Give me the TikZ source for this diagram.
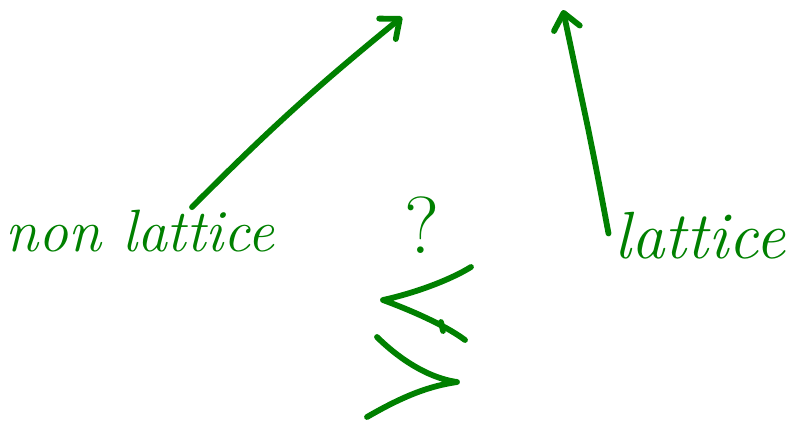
\documentclass[tikz,border=0pt]{standalone}
\usepackage{tikz}
\usetikzlibrary{calc,arrows.meta}
\definecolor{ink}{RGB}{0,128,0}

\begin{document}
\begin{tikzpicture}[pen/.style={ink,line width=3.3pt,line cap=round,line join=round},
  word/.style={ink,font=\fontsize{34}{34}\selectfont\itshape,inner sep=0pt}]
  % Parameters
\def\W{15.82}    % width
\def\D{8.48}     % depth

 \useasboundingbox (0,0) rectangle (\W,-\D);

 % words
 \node[word] (nonlat) at (2.8,-4.62) {non lattice};
 \node[word,font=\fontsize{38}{38}\selectfont\itshape] (lat) at (14.0,-4.72) {lattice};
 \node[ink,font=\fontsize{46}{46}\selectfont,inner sep=0pt] (quest) at (8.44,-4.5) {?};

 \coordinate (top1) at (8.04,-0.34);
 \coordinate (top2) at (11.26,-0.2);
 \coordinate (kink) at (11.76,-2.56);

  \begin{scope}[pen, -{Straight Barb[round,length=9pt,width=15pt]}]
    \draw ($(nonlat.north)+(1.04,0.05)$) to[bend left=3] (top1);
    \draw ($(lat.west)+(-0.12,0.05)$) .. controls (11.95,-3.5) .. (kink) -- (top2);
  \end{scope}

  % the two brackets under the question mark
  \draw[pen] (9.42,-5.34) .. controls (9.0,-5.6) and (8.3,-5.86) .. (7.66,-6.0)
     .. controls (8.2,-6.2) and (8.9,-6.5) .. (9.3,-6.8);
  \draw[pen] (8.82,-6.44) -- (8.86,-6.62);
  \draw[pen] (7.54,-6.74) .. controls (7.9,-7.1) and (8.5,-7.55) .. (9.14,-7.64)
     .. controls (8.6,-7.72) and (8.1,-7.9) .. (7.34,-8.34);

  \end{tikzpicture}
\end{document}
